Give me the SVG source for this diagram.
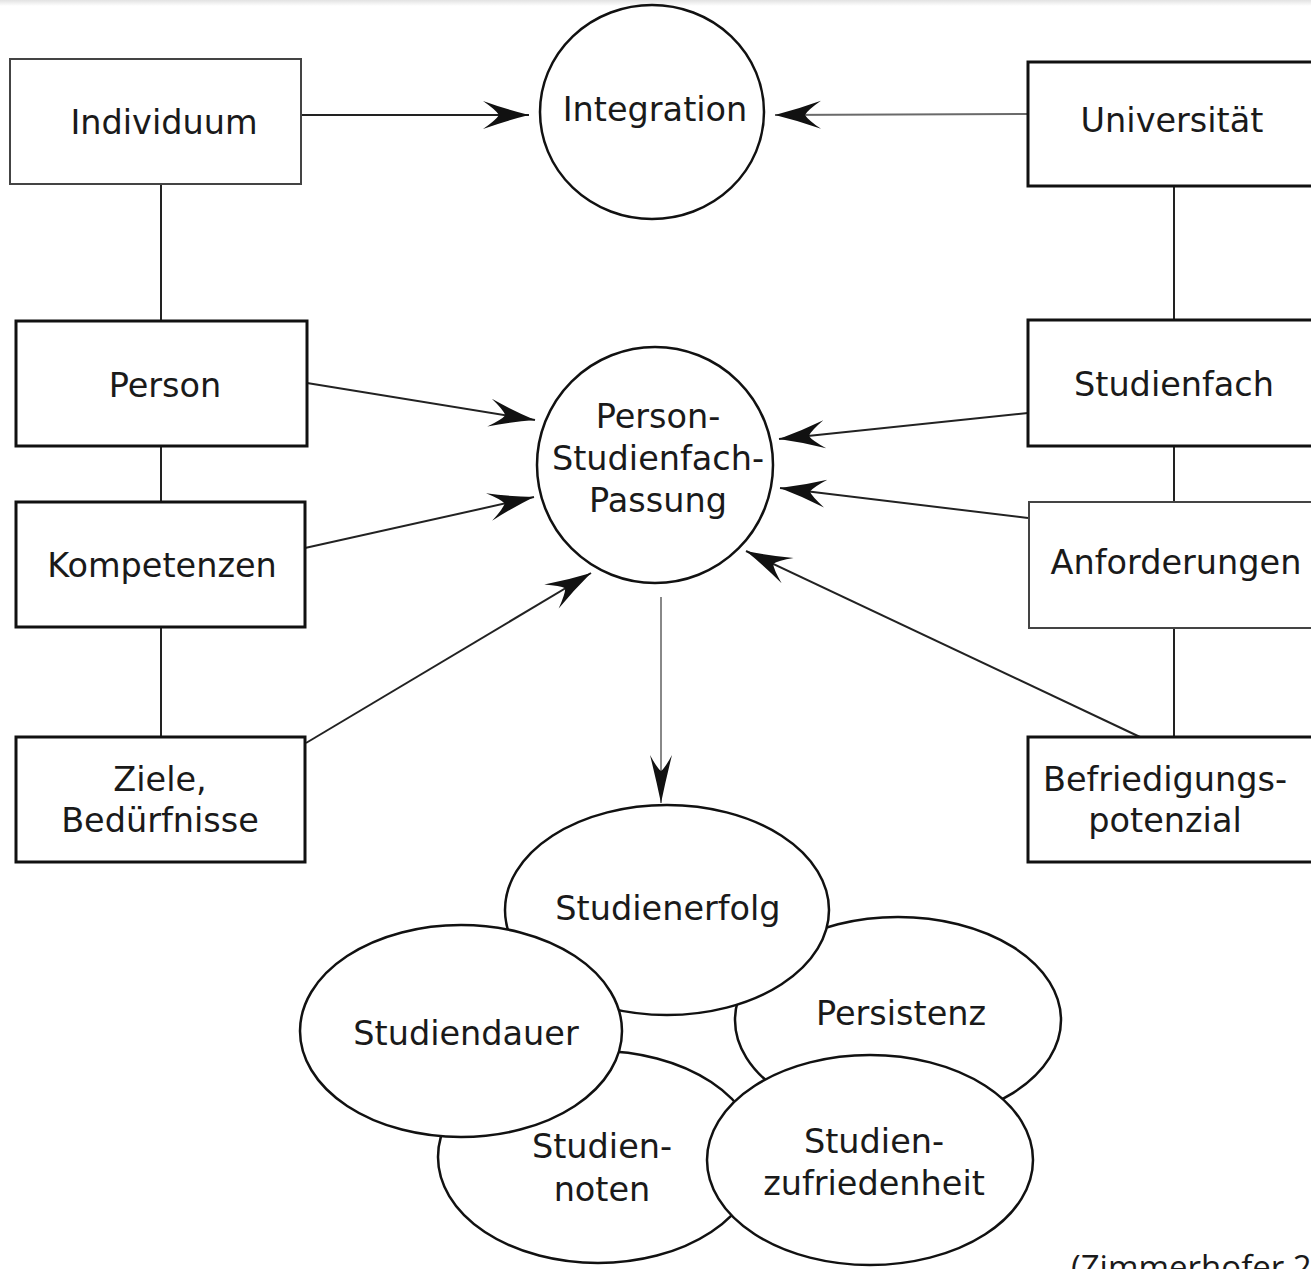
<svg xmlns="http://www.w3.org/2000/svg" width="1311" height="1269" viewBox="0 0 1311 1269">
  <defs>
    <linearGradient id="topShade" x1="0" y1="0" x2="0" y2="1">
      <stop offset="0" stop-color="#e2e2e2"/>
      <stop offset="1" stop-color="#ffffff"/>
    </linearGradient>
    <marker id="barb" markerUnits="userSpaceOnUse" markerWidth="60" markerHeight="40" viewBox="-50 -20 60 40" refX="0" refY="0" orient="auto">
      <path d="M0,0 Q-24,-6 -46,-14 Q-33,-5 -30,0 Q-33,5 -46,14 Q-24,6 0,0 Z" fill="#111"/>
    </marker>
    <marker id="barbNarrow" markerUnits="userSpaceOnUse" markerWidth="60" markerHeight="40" viewBox="-50 -20 60 40" refX="0" refY="0" orient="auto">
      <path d="M0,0 Q-24,-5 -48,-11 Q-35,-4 -32,0 Q-35,4 -48,11 Q-24,5 0,0 Z" fill="#111"/>
    </marker>
  </defs>
  <style>
    .box { fill: #ffffff; stroke: #111; stroke-width: 3; }
    .box.thin { stroke: #444; stroke-width: 2; }
    .blob { fill: #ffffff; stroke: #111; stroke-width: 2.5; }
    .lbl { font-family: "DejaVu Sans", Verdana, sans-serif; font-size: 33.5px; fill: #1a1a1a; text-anchor: middle; }
    .link { fill: none; stroke: #222; stroke-width: 2; }
    .arrow { fill: none; stroke: #222; stroke-width: 2; marker-end: url(#barb); }
    .arrow.grey { stroke: #6a6a6a; }
    .cite { font-family: "Open Sans", "Liberation Sans", sans-serif; font-size: 33px; fill: #1a1a1a; }
  </style>

  <rect x="0" y="0" width="1311" height="1269" fill="#ffffff"/>
  <rect x="0" y="0" width="1311" height="6" fill="url(#topShade)"/>

  <!-- connectors -->
  <g id="connectors">
    <!-- left column chain -->
    <line class="link" x1="161" y1="184" x2="161" y2="320"/>
    <line class="link" x1="161" y1="446" x2="161" y2="502"/>
    <line class="link" x1="161" y1="627" x2="161" y2="737"/>
    <!-- right column chain -->
    <line class="link" x1="1174" y1="186" x2="1174" y2="320"/>
    <line class="link" x1="1174" y1="446" x2="1174" y2="502"/>
    <line class="link" x1="1174" y1="628" x2="1174" y2="737"/>
    <!-- into Integration -->
    <line class="arrow" x1="301" y1="115" x2="529" y2="115"/>
    <line class="arrow grey" x1="1028" y1="114" x2="775" y2="115"/>
    <!-- into Person-Studienfach-Passung -->
    <line class="arrow" x1="307" y1="383" x2="535" y2="420"/>
    <line class="arrow" x1="305" y1="548" x2="534" y2="497"/>
    <line class="arrow" x1="306" y1="743" x2="591" y2="573"/>
    <line class="arrow" x1="1028" y1="413" x2="779" y2="439"/>
    <line class="arrow" x1="1028" y1="518" x2="780" y2="488"/>
    <line class="arrow" x1="1140" y1="737" x2="746" y2="551"/>
    <!-- down to outcomes -->
    <line x1="661" y1="597" x2="661" y2="803" stroke="#888" stroke-width="2" marker-end="url(#barbNarrow)"/>
  </g>

  <!-- person side -->
  <g id="individuum">
    <rect class="box thin" x="10" y="59" width="291" height="125"/>
    <text class="lbl" x="164" y="134">Individuum</text>
  </g>
  <g id="person">
    <rect class="box" x="16" y="321" width="291" height="125"/>
    <text class="lbl" x="165" y="397">Person</text>
  </g>
  <g id="kompetenzen">
    <rect class="box" x="16" y="502" width="289" height="125"/>
    <text class="lbl" x="162" y="577">Kompetenzen</text>
  </g>
  <g id="ziele">
    <rect class="box" x="16" y="737" width="289" height="125"/>
    <text class="lbl" x="160" y="791">Ziele,</text>
    <text class="lbl" x="160" y="832">Bedürfnisse</text>
  </g>

  <!-- university side -->
  <g id="universitaet">
    <rect class="box" x="1028" y="62" width="300" height="124"/>
    <text class="lbl" x="1172" y="132">Universität</text>
  </g>
  <g id="studienfach">
    <rect class="box" x="1028" y="320" width="300" height="126"/>
    <text class="lbl" x="1174" y="396">Studienfach</text>
  </g>
  <g id="anforderungen">
    <rect class="box thin" x="1029" y="502" width="300" height="126"/>
    <text class="lbl" x="1176" y="574">Anforderungen</text>
  </g>
  <g id="befriedigungspotenzial">
    <rect class="box" x="1028" y="737" width="300" height="125"/>
    <text class="lbl" x="1165" y="791">Befriedigungs-</text>
    <text class="lbl" x="1165" y="832">potenzial</text>
  </g>

  <!-- central constructs -->
  <g id="integration">
    <ellipse class="blob" cx="652" cy="112" rx="112" ry="107"/>
    <text class="lbl" x="655" y="121">Integration</text>
  </g>
  <g id="passung">
    <ellipse class="blob" cx="655" cy="465" rx="118" ry="118"/>
    <text class="lbl" x="658" y="428">Person-</text>
    <text class="lbl" x="658" y="470">Studienfach-</text>
    <text class="lbl" x="658" y="512">Passung</text>
  </g>

  <!-- outcome cluster (drawn back to front) -->
  <g id="persistenz">
    <ellipse class="blob" cx="898" cy="1020" rx="163" ry="103"/>
    <text class="lbl" x="901" y="1025">Persistenz</text>
  </g>
  <g id="studiennoten">
    <ellipse class="blob" cx="598" cy="1157" rx="160" ry="106"/>
    <text class="lbl" x="602" y="1158">Studien-</text>
    <text class="lbl" x="602" y="1201">noten</text>
  </g>
  <g id="studienerfolg">
    <ellipse class="blob" cx="667" cy="910" rx="162" ry="105"/>
    <text class="lbl" x="668" y="920">Studienerfolg</text>
  </g>
  <g id="studiendauer">
    <ellipse class="blob" cx="461" cy="1031" rx="161" ry="106"/>
    <text class="lbl" x="466" y="1045">Studiendauer</text>
  </g>
  <g id="studienzufriedenheit">
    <ellipse class="blob" cx="870" cy="1160" rx="163" ry="105"/>
    <text class="lbl" x="874" y="1153">Studien-</text>
    <text class="lbl" x="874" y="1195">zufriedenheit</text>
  </g>

  <text class="cite" x="1071" y="1279">(Zimmerhofer 2008)</text>
</svg>
